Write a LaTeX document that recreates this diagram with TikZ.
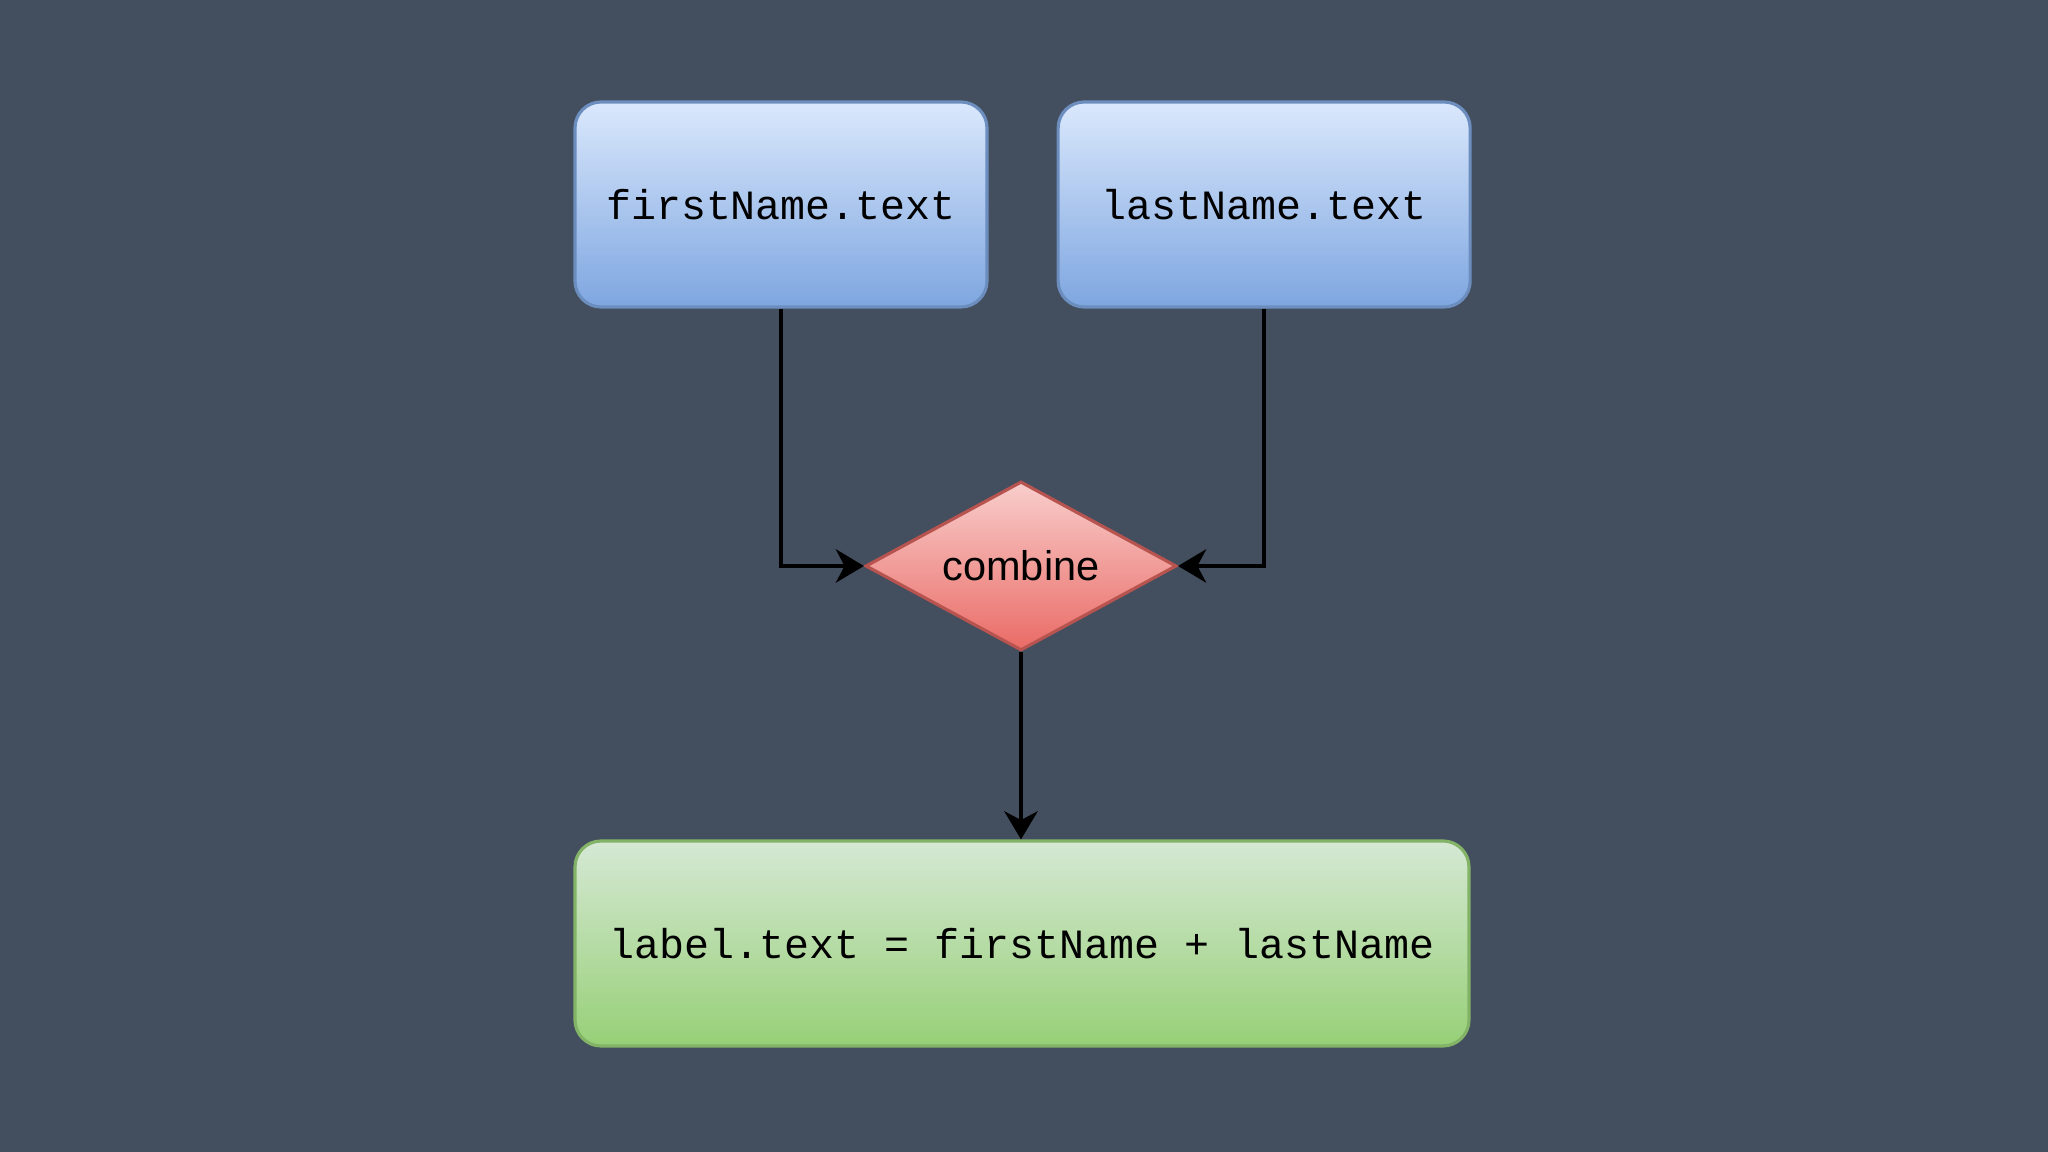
\documentclass[tikz,border=0pt]{standalone}
\usepackage{fontspec}
\usepackage{tikz}
\usetikzlibrary{positioning, arrows.meta, shapes.geometric}
\newfontfamily\codefont{Liberation Mono}
\newfontfamily\labelfont{Liberation Sans}
\definecolor{slatebg}{RGB}{67,78,94}
\definecolor{bluetop}{HTML}{DAE8FC}
\definecolor{bluebot}{HTML}{7EA6E0}
\definecolor{blueline}{HTML}{6C8EBF}
\definecolor{redtop}{HTML}{F8CECC}
\definecolor{redbot}{HTML}{EA6B66}
\definecolor{redline}{HTML}{B85450}
\definecolor{greentop}{HTML}{D5E8D4}
\definecolor{greenbot}{HTML}{97D077}
\definecolor{greenline}{HTML}{82B366}
\tikzset{
  codebox/.style={
    rectangle, rounded corners=0.26cm, line width=0.9pt,
    minimum height=2.05cm, inner sep=0pt, shading=axis,
    font=\codefont\fontsize{11.85}{14}\selectfont
  },
  fieldbox/.style={codebox, draw=blueline, top color=bluetop,
    bottom color=bluebot, minimum width=4.12cm},
  resultbox/.style={codebox, draw=greenline, top color=greentop,
    bottom color=greenbot, minimum width=8.94cm},
  combiner/.style={
    diamond, aspect=1.84, inner sep=0pt, line width=0.9pt,
    minimum width=3.11cm, minimum height=1.69cm,
    draw=redline, shading=axis, top color=redtop, bottom color=redbot,
    font=\labelfont\fontsize{11.8}{14}\selectfont
  },
  flow/.style={draw=black, line width=1pt,
    -{Stealth[length=8pt, width=9.5pt, inset=2.5pt]}},
}
\begin{document}
\begin{tikzpicture}
  \fill[slatebg] (0,0) rectangle (20.48,11.52);
  \useasboundingbox (0,0) rectangle (20.48,11.52);

  \node[fieldbox] (firstName) at (7.81,9.475) {firstName.text};
  \node[fieldbox, right=0.68cm of firstName] (lastName) {lastName.text};
  \node[combiner] (combine) at (10.21,5.86) {combine};
  \node[resultbox] (result) at (10.22,2.085) {label.text = firstName + lastName};

  \draw[flow] (firstName.south) |- (combine.west);
  \draw[flow] (lastName.south) |- (combine.east);
  \draw[flow] (combine.south) -- (combine.south |- result.north);
\end{tikzpicture}
\end{document}
